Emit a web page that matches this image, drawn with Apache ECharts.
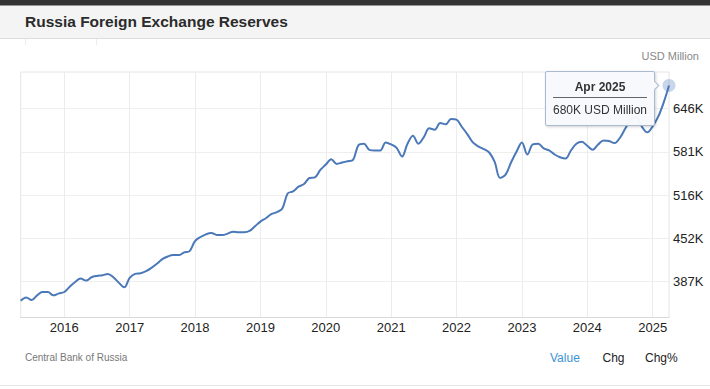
<!DOCTYPE html>
<html><head><meta charset="utf-8">
<script src="https://cdn.jsdelivr.net/npm/echarts@6/dist/echarts.min.js"></script>
<style>html,body{margin:0;padding:0;background:#fff}#c{width:710px;height:389px}</style>
</head><body><div id="c"></div>
<script>
// ---- data ----
const startYear = 2015;
const startMonth = 4; // May (0-based)
const monthNames = ['Jan','Feb','Mar','Apr','May','Jun','Jul','Aug','Sep','Oct','Nov','Dec'];
// Russia foreign exchange reserves, thousands of USD Million (K), May 2015 - Apr 2025
const reserves2015 = [359, 364, 360, 367, 372, 372, 367, 370];
const reserves2016 = [372, 380, 387, 392, 389, 394, 396, 397, 399, 394, 386, 379];
const reserves2017 = [393, 399, 400, 403, 408, 414, 421, 425, 427, 427, 431, 433];
const reserves2018 = [448, 454, 458, 460, 457, 457, 459, 462, 461, 461, 463, 470];
const reserves2019 = [477, 482, 488, 491, 496, 519, 522, 529, 533, 542, 543, 554];
const reserves2020 = [562, 570, 563, 565, 567, 569, 591, 593, 584, 583, 583, 595];
const reserves2021 = [592, 587, 574, 593, 605, 593, 603, 616, 614, 624, 622, 630];
const reserves2022 = [629, 618, 607, 595, 589, 585, 580, 566, 542, 547, 565, 581];
const reserves2023 = [595, 577, 592, 593, 586, 583, 577, 573, 571, 583, 593, 596];
const reserves2024 = [590, 584, 592, 598, 597, 594, 602, 616, 629, 633, 619, 610];
const reserves2025 = [619, 633, 654, 680];
const yTickValues = [387.36, 451.92, 516.48, 581.04, 645.6];
const yTickLabels = ['387K', '452K', '516K', '581K', '646K'];
const xYearLabels = ['2016','2017','2018','2019','2020','2021','2022','2023','2024','2025'];
const unitLabel = 'USD Million';
const sourceLabel = 'Central Bank of Russia';
const titleText = 'Russia Foreign Exchange Reserves';
const tabLabels = ['Value', 'Chg', 'Chg%'];

const reserves = [].concat(reserves2015, reserves2016, reserves2017, reserves2018, reserves2019,
  reserves2020, reserves2021, reserves2022, reserves2023, reserves2024, reserves2025);
const categories = reserves.map((_, i) => {
  const k = startMonth + i;
  return monthNames[k % 12] + ' ' + (startYear + Math.floor(k / 12));
});
const lastIdx = reserves.length - 1;

const FONT = '"Liberation Sans", Arial, Helvetica, sans-serif';
const LINE = '#4a78b8';
const isYearStart = (i, v) => v.startsWith('Jan ') && xYearLabels.includes(v.slice(4));

const chart = echarts.init(document.getElementById('c'), null, {renderer: 'svg'});
chart.setOption({
  animation: false,
  backgroundColor: '#ffffff',
  textStyle: {fontFamily: FONT},
  grid: {left: 20.7, right: 41, top: 72, bottom: 71.5, show: true, borderColor: '#e4e4e4', borderWidth: 1,
         containLabel: false, outerBoundsMode: 'none'},
  xAxis: {
    type: 'category', data: categories, boundaryGap: false,
    axisLine: {show: true, lineStyle: {color: '#d9d9d9', width: 1}},
    axisTick: {show: false, interval: isYearStart},
    axisLabel: {interval: isYearStart, formatter: v => v.slice(4), fontSize: 13, color: '#222', margin: 3, fontFamily: FONT},
    splitLine: {show: true, interval: isYearStart, lineStyle: {color: '#ececec', width: 1}}
  },
  yAxis: {
    type: 'value', position: 'right', min: 334, max: 700,
    axisLine: {show: false},
    axisTick: {show: false, customValues: yTickValues},
    axisLabel: {customValues: yTickValues, margin: 4, fontSize: 13, color: '#222', fontFamily: FONT,
      formatter: v => {
        let best = 0;
        yTickValues.forEach((t, k) => { if (Math.abs(t - v) < Math.abs(yTickValues[best] - v)) best = k; });
        return yTickLabels[best];
      }},
    splitLine: {show: true, lineStyle: {color: '#eeeeee', width: 1}}
  },
  tooltip: {
    trigger: 'item', triggerOn: 'none', alwaysShowContent: true, showDelay: 0, hideDelay: 0,
    transitionDuration: 0, confine: false,
    backgroundColor: 'rgba(247,249,252,0.97)', borderColor: '#a9b9d0', borderWidth: 1, padding: [8, 7, 8, 7],
    textStyle: {fontFamily: FONT, fontSize: 12, color: '#333'},
    extraCssText: 'box-shadow:1px 1px 3px rgba(0,0,0,0.18);border-radius:2px;',
    position: (point, params, dom, rect, size) => [point[0] - size.contentSize[0] - 14, point[1] - 14.5],
    formatter: p => '<div style="position:absolute;right:-4px;top:10px;width:6px;height:6px;background:rgb(247,249,252);border-top:1px solid #a9b9d0;border-right:1px solid #a9b9d0;transform:rotate(45deg)"></div>' +
      '<div style="text-align:center;font-weight:bold;font-size:12px;line-height:14px;color:#333;padding-bottom:3px;border-bottom:1px solid #666;">' + p.name + '</div>' +
      '<div style="font-size:12px;line-height:14px;margin-top:5px;color:#333;white-space:nowrap">' + Math.round(p.value) + 'K ' + unitLabel + '</div>'
  },
  series: [{
    type: 'line', smooth: 0.35, symbol: 'none', showAllSymbol: true,
    lineStyle: {color: LINE, width: 2},
    itemStyle: {color: LINE},
    emphasis: {disabled: true},
    data: reserves.map((v, i) => i === lastIdx
      ? {value: v, symbol: 'circle', symbolSize: 13, itemStyle: {color: 'rgba(74,120,184,0.3)'}}
      : v)
  }],
  graphic: [
    {type: 'rect', silent: true, z: -10, shape: {x: 0, y: 0, width: 710, height: 38}, style: {fill: '#f4f4f4'}},
    {type: 'rect', silent: true, z: -9, shape: {x: 0, y: 0, width: 710, height: 5.5}, style: {fill: '#333333'}},
    {type: 'line', silent: true, shape: {x1: 0, y1: 38.5, x2: 710, y2: 38.5}, style: {stroke: '#dcdcdc', lineWidth: 1}},
    {type: 'line', silent: true, shape: {x1: 25.5, y1: 39, x2: 25.5, y2: 45}, style: {stroke: '#ececec', lineWidth: 1}},
    {type: 'line', silent: true, shape: {x1: 96.5, y1: 39, x2: 96.5, y2: 45}, style: {stroke: '#ececec', lineWidth: 1}},
    {type: 'line', silent: true, shape: {x1: 0, y1: 385.5, x2: 710, y2: 385.5}, style: {stroke: '#e6e6e6', lineWidth: 1}},
    {type: 'text', silent: true, x: 25, y: 21.5, style: {text: titleText, font: 'bold 15.5px ' + FONT, fill: '#2b2b2b', verticalAlign: 'middle'}},
    {type: 'text', silent: true, x: 699, y: 55.7, style: {text: unitLabel, font: '11px ' + FONT, fill: '#888', align: 'right', verticalAlign: 'middle'}},
    {type: 'text', silent: true, x: 25, y: 357.7, style: {text: sourceLabel, font: '10px ' + FONT, fill: '#777', verticalAlign: 'middle'}},
    {type: 'text', silent: true, x: 550, y: 357.7, style: {text: tabLabels[0], font: '12px ' + FONT, fill: '#3a93d6', verticalAlign: 'middle'}},
    {type: 'text', silent: true, x: 602.5, y: 357.7, style: {text: tabLabels[1], font: '12px ' + FONT, fill: '#222', verticalAlign: 'middle'}},
    {type: 'text', silent: true, x: 645, y: 357.7, style: {text: tabLabels[2], font: '12px ' + FONT, fill: '#222', verticalAlign: 'middle'}}
  ]
});
chart.dispatchAction({type: 'showTip', seriesIndex: 0, dataIndex: lastIdx});
</script>
</body></html>
